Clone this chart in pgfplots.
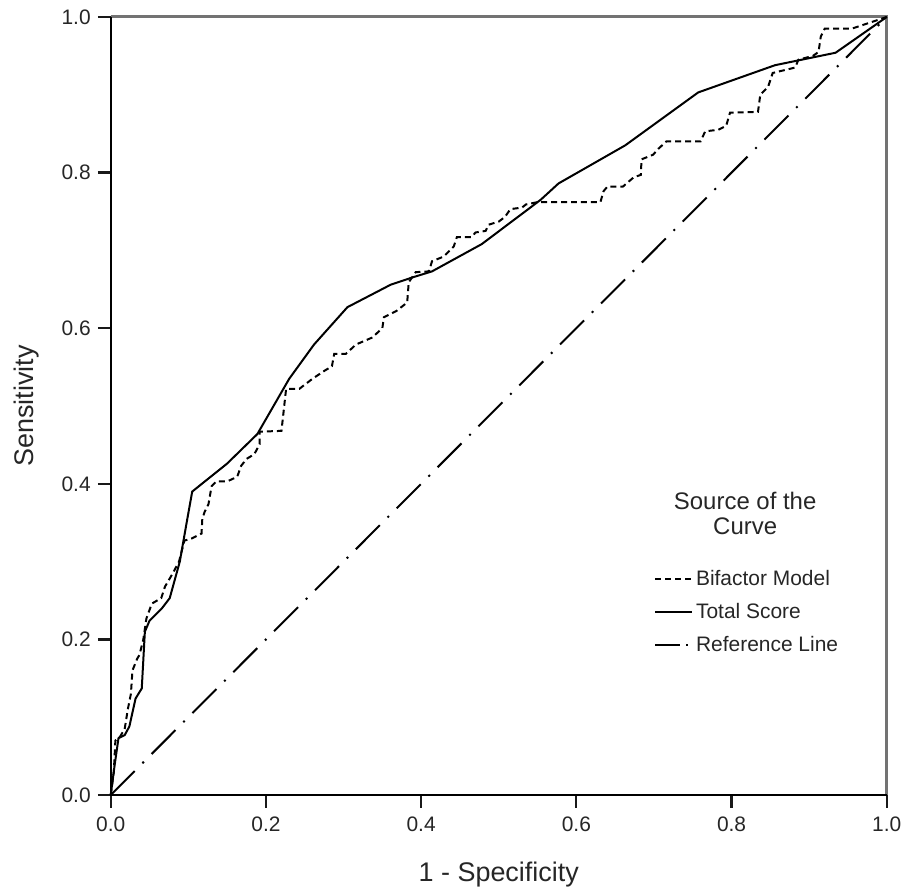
\documentclass[border=0pt]{standalone}
\usepackage{fontspec}
\setmainfont{Liberation Sans}
\usepackage{pgfplots}
\pgfplotsset{compat=1.18}
\begin{document}
\begin{tikzpicture}
\begin{axis}[
  name=ax,
  scale only axis,
  width=389pt, height=390pt,
  xmin=0, xmax=1, ymin=0, ymax=1,
  axis line style={draw=none},
  xtick pos=bottom, ytick pos=left,
  tick align=outside,
  major tick length=6.5pt,
  major tick style={black!90, line width=1.1pt},
  xtick={0,0.2,0.4,0.6,0.8,1}, ytick={0,0.2,0.4,0.6,0.8,1},
  minor tick num=0,
  /pgf/number format/assume math mode=true,
  xticklabel={\pgfmathprintnumber[fixed,fixed zerofill,precision=1]{\tick}},
  yticklabel={\pgfmathprintnumber[fixed,fixed zerofill,precision=1]{\tick}},
  ticklabel style={font=\fontsize{10.5}{12}\selectfont, text=black!85},
  xticklabel style={yshift=-1pt},
  xlabel={1 - Specificity}, ylabel={Sensitivity},
  every axis x label/.style={at={(axis description cs:0.5,0)}, yshift=-40pt, anchor=center, font=\fontsize{13.5}{15}\selectfont, text=black!85},
  every axis y label/.style={at={(axis description cs:0,0.5)}, xshift=-42pt, rotate=90, anchor=center, font=\fontsize{13.5}{15}\selectfont, text=black!85},
  clip=false,
  legend cell align=left,
  legend image code/.code={\draw[#1] (0pt,0pt) -- (18.5pt,0pt);},
  legend style={at={(0.692,0.30)}, anchor=north west, draw=none, fill=none,
    font=\fontsize{10.5}{12}\selectfont, text=black!85, row sep=3.5pt,
    nodes={inner xsep=1.5pt}},
]
\draw[black!55, line width=1.5pt] (rel axis cs:0,1) -- (rel axis cs:1,1) -- (rel axis cs:1,0);
\draw[black, line width=1pt] (rel axis cs:0,1) -- (rel axis cs:0,0) -- (rel axis cs:1,0);
\addplot[black, line width=1pt, dash pattern=on 3pt off 2pt] coordinates {
(0,0)(0.004,0.03)(0.006,0.07)(0.012,0.075)(0.018,0.085)(0.022,0.11)(0.026,0.13)(0.028,0.16)(0.034,0.175)(0.037,0.18)(0.042,0.2)(0.046,0.227)(0.053,0.246)(0.065,0.253)(0.07,0.268)(0.08,0.285)(0.088,0.30)(0.095,0.327)(0.105,0.33)(0.117,0.336)(0.118,0.355)(0.121,0.364)(0.126,0.374)(0.13,0.397)(0.136,0.403)(0.15,0.403)(0.163,0.409)(0.168,0.423)(0.175,0.432)(0.185,0.438)(0.192,0.451)(0.192,0.467)(0.22,0.468)(0.226,0.522)(0.243,0.522)(0.26,0.535)(0.275,0.545)(0.285,0.551)(0.288,0.567)(0.303,0.567)(0.316,0.579)(0.337,0.588)(0.35,0.6)(0.352,0.614)(0.368,0.622)(0.382,0.633)(0.384,0.659)(0.393,0.672)(0.41,0.673)(0.414,0.686)(0.429,0.692)(0.442,0.705)(0.446,0.717)(0.465,0.717)(0.47,0.723)(0.483,0.725)(0.487,0.733)(0.5,0.737)(0.508,0.743)(0.515,0.753)(0.53,0.755)(0.535,0.759)(0.55,0.762)(0.631,0.762)(0.635,0.776)(0.64,0.782)(0.66,0.782)(0.674,0.794)(0.683,0.797)(0.684,0.817)(0.699,0.823)(0.705,0.83)(0.716,0.84)(0.76,0.84)(0.766,0.853)(0.783,0.855)(0.793,0.86)(0.798,0.877)(0.834,0.878)(0.837,0.9)(0.847,0.91)(0.853,0.928)(0.882,0.935)(0.886,0.945)(0.905,0.95)(0.912,0.955)(0.915,0.975)(0.92,0.985)(0.955,0.985)(0.97,0.99)(1,1)
};
\addlegendentry{Bifactor Model}
\addplot[black, line width=1pt] coordinates {
(0,0)(0.005,0.038)(0.010,0.073)(0.018,0.077)(0.024,0.088)(0.032,0.124)(0.040,0.137)(0.044,0.210)(0.050,0.224)(0.066,0.240)(0.076,0.253)(0.089,0.300)(0.098,0.351)(0.105,0.390)(0.130,0.410)(0.150,0.426)(0.189,0.464)(0.230,0.535)(0.262,0.579)(0.305,0.627)(0.361,0.656)(0.388,0.665)(0.414,0.673)(0.478,0.708)(0.554,0.765)(0.577,0.786)(0.663,0.835)(0.757,0.903)(0.856,0.938)(0.934,0.954)(1,1)
};
\addlegendentry{Total Score}
\addplot[black, line width=1pt, dash pattern=on 17pt off 5.5pt on 1pt off 5.5pt,
  legend image code/.code={\draw[black, line width=1pt] (0pt,0pt) -- (12.5pt,0pt); \draw[black, line width=1pt] (15.5pt,0pt) -- (16.5pt,0pt);}] coordinates {(0,0)(1,1)};
\addlegendentry{Reference Line}
\node[align=center, font=\fontsize{12}{12.5}\selectfont, text=black!85] at (rel axis cs:0.8175,0.3615) {Source of the\\Curve};
\end{axis}
\path ([shift={(-55.5pt,-49pt)}]ax.south west) rectangle ([shift={(9.5pt,8.5pt)}]ax.north east);
\end{tikzpicture}
\end{document}
